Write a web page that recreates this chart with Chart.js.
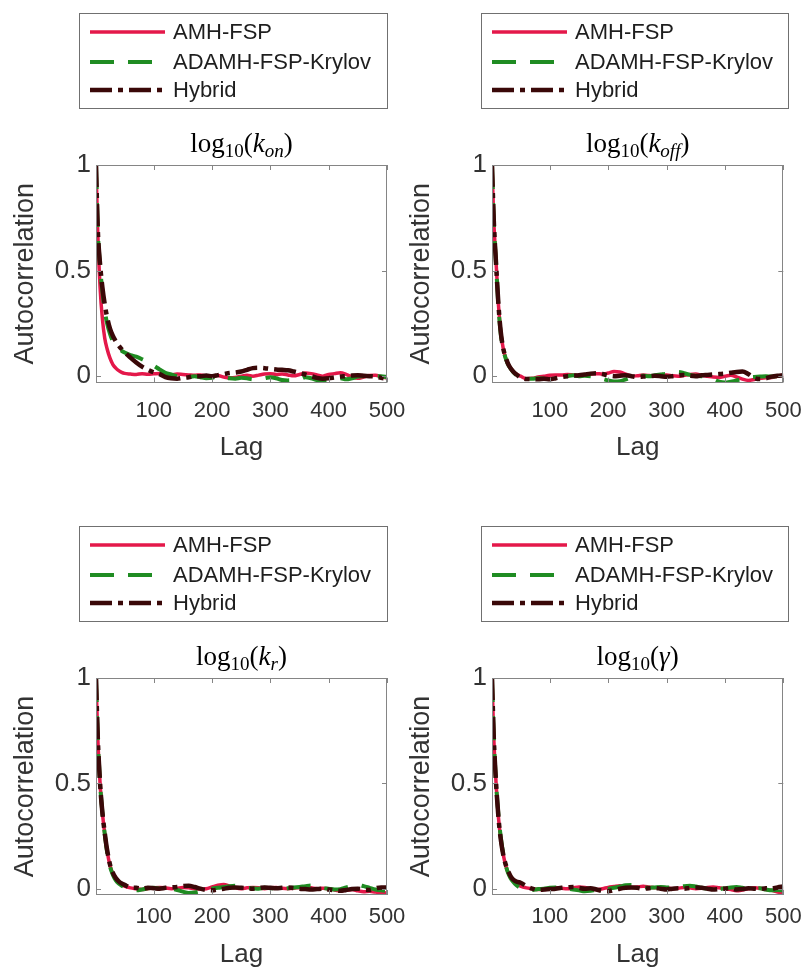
<!DOCTYPE html>
<html>
<head>
<meta charset="utf-8">
<title>MCMC autocorrelation</title>
<script src="https://cdn.jsdelivr.net/npm/chart.js"></script>
<style>
  html, body { margin: 0; padding: 0; background: #fff; overflow: hidden; }
  body { width: 806px; height: 973px; position: relative; }
  canvas { position: absolute; }
</style>
</head>
<body>
<canvas id="konChart"></canvas>
<canvas id="koffChart"></canvas>
<canvas id="krChart"></canvas>
<canvas id="gammaChart"></canvas>

<script>
// lag grid (dense near zero where the curves fall off)
const lags = [1, 4, 8, 12, 16, 20, 25, 30, 35, 40, 45, 50,
  60, 70, 80, 90, 100, 110, 120, 130, 140, 150, 160, 170, 180, 190, 200, 210, 220, 230, 240, 250,
  260, 270, 280, 290, 300, 310, 320, 330, 340, 350, 360, 370, 380, 390, 400, 410, 420, 430, 440, 450,
  460, 470, 480, 490, 500];

const seriesNames = ['AMH-FSP', 'ADAMH-FSP-Krylov', 'Hybrid'];
const xTickValues = [100, 200, 300, 400, 500];
const yTickValues = [0, 0.5, 1];

// log10(k_on)
const konAmh = [1.0, 0.68, 0.42, 0.27, 0.18, 0.13, 0.085, 0.055, 0.038, 0.026, 0.018, 0.013,
  0.010, 0.008, 0.012, 0.009, 0.011, 0.013, 0.008, 0.006, 0.010, 0.008, 0.006, 0.004, 0.006, 0.002, 0.000, 0.003, -0.004, -0.008, -0.006, 0.000,
  0.004, 0.000, 0.005, 0.010, 0.012, 0.008, 0.010, 0.006, 0.002, 0.008, 0.015, 0.012, 0.006, 0.000, 0.008, 0.012, 0.016, 0.008, -0.004, -0.010,
  -0.004, 0.003, 0.004, -0.002, -0.010];
const konAdamh = [1.0, 0.70, 0.52, 0.40, 0.31, 0.25, 0.20, 0.165, 0.145, 0.13, 0.12, 0.112,
  0.100, 0.092, 0.080, 0.066, 0.050, 0.032, 0.016, 0.008, 0.000, -0.008, -0.004, 0.000, -0.005, -0.010, -0.008, 0.000, -0.005, -0.010, -0.012, -0.008,
  -0.010, -0.015, -0.012, -0.010, -0.005, -0.010, -0.018, -0.020, -0.018, -0.015, -0.005, -0.010, -0.018, -0.020, -0.018, -0.012, -0.010, -0.015, -0.010, -0.002,
  0.000, 0.002, 0.000, 0.000, -0.005];
const konHybrid = [1.0, 0.70, 0.53, 0.42, 0.34, 0.28, 0.225, 0.19, 0.165, 0.145, 0.128, 0.113,
  0.088, 0.065, 0.045, 0.030, 0.018, 0.010, -0.004, -0.010, -0.012, -0.008, -0.005, 0.000, 0.000, 0.003, 0.000, 0.005, 0.010, 0.015, 0.017, 0.022,
  0.030, 0.038, 0.040, 0.038, 0.035, 0.032, 0.030, 0.028, 0.022, 0.015, 0.008, 0.000, -0.008, -0.012, -0.010, -0.006, -0.002, 0.000, 0.003, 0.004,
  0.002, 0.000, -0.002, -0.008, -0.012];

// log10(k_off)
const koffAmh = [1.0, 0.74, 0.54, 0.34, 0.21, 0.135, 0.08, 0.05, 0.03, 0.015, 0.006, 0.0,
  -0.012, -0.010, -0.004, 0.000, 0.004, 0.006, 0.005, 0.008, 0.006, 0.004, 0.006, 0.010, 0.012, 0.010, 0.015, 0.022, 0.020, 0.010, 0.000, 0.002,
  0.005, 0.003, 0.000, 0.004, 0.006, 0.002, 0.000, 0.004, 0.008, 0.010, 0.004, 0.000, -0.004, -0.006, 0.000, 0.004, -0.004, -0.014, -0.020, -0.016,
  -0.010, -0.008, -0.006, 0.000, 0.004];
const koffAdamh = [1.0, 0.74, 0.53, 0.33, 0.20, 0.13, 0.08, 0.048, 0.028, 0.012, 0.0, -0.008,
  -0.012, -0.012, -0.010, -0.012, -0.014, -0.010, -0.004, 0.000, 0.004, 0.000, 0.002, 0.000, -0.004, -0.012, -0.020, -0.025, -0.024, -0.015, -0.005, 0.000,
  0.002, 0.000, 0.004, 0.008, 0.012, 0.018, 0.020, 0.014, 0.006, 0.002, 0.000, -0.006, -0.015, -0.026, -0.030, -0.026, -0.020, -0.012, -0.006, -0.004,
  -0.002, 0.000, -0.002, 0.000, 0.002];
const koffHybrid = [1.0, 0.74, 0.53, 0.34, 0.21, 0.135, 0.085, 0.05, 0.03, 0.014, 0.003, -0.006,
  -0.014, -0.014, -0.015, -0.012, -0.015, -0.010, -0.004, 0.000, 0.002, 0.004, 0.008, 0.012, 0.014, 0.010, 0.004, 0.000, 0.002, 0.004, 0.000, -0.004,
  -0.002, 0.000, 0.002, 0.000, -0.003, 0.000, 0.004, 0.006, 0.002, 0.000, 0.004, 0.006, 0.008, 0.010, 0.012, 0.016, 0.020, 0.022, 0.010, -0.008,
  -0.014, -0.010, -0.002, 0.002, 0.004];

// log10(k_r)
const krAmh = [1.0, 0.72, 0.50, 0.36, 0.26, 0.18, 0.11, 0.07, 0.045, 0.03, 0.02, 0.012,
  0.004, 0.000, -0.004, 0.000, 0.004, 0.006, 0.004, 0.000, 0.002, 0.006, 0.004, 0.000, -0.002, 0.000, 0.008, 0.016, 0.020, 0.012, 0.004, 0.000,
  0.004, 0.006, 0.004, 0.000, 0.004, 0.006, 0.002, 0.000, 0.002, 0.006, 0.008, 0.004, 0.000, 0.002, 0.000, -0.006, -0.010, -0.008, -0.004, -0.010,
  -0.014, -0.012, -0.016, -0.018, -0.020];
const krAdamh = [1.0, 0.72, 0.50, 0.36, 0.26, 0.175, 0.105, 0.065, 0.04, 0.025, 0.015, 0.006,
  0.000, -0.008, -0.004, 0.002, 0.004, 0.000, -0.004, -0.002, -0.006, -0.014, -0.020, -0.018, -0.012, -0.006, 0.000, 0.004, 0.008, 0.012, 0.014, 0.008,
  0.004, 0.002, 0.000, 0.004, 0.002, 0.000, -0.002, 0.002, 0.006, 0.008, 0.012, 0.015, 0.012, 0.004, 0.000, -0.004, -0.002, 0.006, 0.012, 0.018,
  0.012, 0.004, -0.004, -0.008, -0.010];
const krHybrid = [1.0, 0.72, 0.50, 0.36, 0.265, 0.185, 0.115, 0.075, 0.05, 0.035, 0.025, 0.018,
  0.006, 0.004, 0.000, 0.004, 0.002, 0.000, 0.004, 0.006, 0.008, 0.012, 0.014, 0.008, 0.000, -0.006, -0.008, -0.004, 0.000, 0.004, 0.006, 0.004,
  0.002, 0.000, 0.003, 0.006, 0.004, 0.002, 0.004, 0.006, 0.003, 0.000, -0.002, -0.004, -0.002, 0.000, -0.004, -0.008, -0.010, -0.006, -0.002, 0.000,
  -0.004, -0.006, 0.002, 0.006, 0.006];

// log10(gamma)
const gammaAmh = [1.0, 0.72, 0.50, 0.34, 0.235, 0.165, 0.105, 0.068, 0.045, 0.03, 0.02, 0.012,
  0.004, 0.000, -0.004, -0.004, 0.000, 0.004, 0.002, 0.000, 0.004, 0.008, 0.006, 0.000, -0.004, 0.000, 0.006, 0.010, 0.014, 0.010, 0.006, 0.008,
  0.012, 0.008, 0.004, 0.006, 0.004, 0.000, 0.002, 0.006, 0.004, 0.000, 0.002, 0.006, 0.008, 0.004, 0.000, -0.004, -0.010, -0.006, 0.000, 0.004,
  0.002, -0.004, -0.008, -0.016, -0.018];
const gammaAdamh = [1.0, 0.72, 0.50, 0.35, 0.245, 0.17, 0.105, 0.065, 0.04, 0.024, 0.012, 0.004,
  -0.004, -0.006, -0.002, 0.000, 0.004, 0.006, 0.004, 0.000, -0.004, -0.008, -0.012, -0.010, -0.006, -0.004, 0.000, 0.004, 0.010, 0.016, 0.018, 0.014,
  0.008, 0.004, 0.006, 0.008, 0.006, 0.004, 0.008, 0.012, 0.014, 0.010, 0.004, 0.000, -0.004, -0.002, 0.002, 0.006, 0.008, 0.004, 0.000, 0.000,
  0.002, -0.004, -0.008, -0.006, -0.008];
const gammaHybrid = [1.0, 0.72, 0.50, 0.34, 0.235, 0.165, 0.11, 0.075, 0.05, 0.038, 0.032, 0.028,
  0.012, 0.000, -0.006, -0.004, -0.002, 0.000, 0.004, 0.006, 0.008, 0.004, 0.000, 0.002, -0.004, -0.010, -0.012, -0.006, 0.000, 0.004, 0.006, 0.004,
  0.000, 0.002, 0.004, 0.000, -0.004, 0.000, 0.002, 0.000, 0.004, 0.006, 0.004, 0.000, -0.004, -0.002, 0.000, 0.002, -0.004, -0.002, 0.002, 0.000,
  -0.002, 0.002, 0.000, 0.006, 0.010];

// title pieces: [text, style]  (sub = subscript, it = italic)
const konTitle = [['log', ''], ['10', 'sub'], ['(', ''], ['k', 'it'], ['on', 'it sub'], [')', '']];
const koffTitle = [['log', ''], ['10', 'sub'], ['(', ''], ['k', 'it'], ['off', 'it sub'], [')', '']];
const krTitle = [['log', ''], ['10', 'sub'], ['(', ''], ['k', 'it'], ['r', 'it sub'], [')', '']];
const gammaTitle = [['log', ''], ['10', 'sub'], ['(', ''], ['γ', 'it'], [')', '']];

const SANS = "'Liberation Sans', Arial, Helvetica, sans-serif";
const SERIF = "'Liberation Serif', 'Times New Roman', serif";
const TEXT = '#333333';

const lineStyles = [
  { color: '#e4184a', width: 3.5, dash: [] },
  { color: '#1f8c22', width: 4, dash: [24, 14] },
  { color: '#3a0808', width: 4.5, dash: [22, 6, 5, 6] }
];

// axes box, inward ticks, legend box and the math title
const panelDecor = {
  id: 'panelDecor',
  afterDatasetsDraw(chart) {
    const { ctx, chartArea: a, scales: { x, y } } = chart;
    ctx.save();
    ctx.strokeStyle = '#858585';
    ctx.lineWidth = 1;
    ctx.strokeRect(Math.round(a.left) + 0.5, Math.round(a.top) + 0.5,
      Math.round(a.width) - 1, Math.round(a.height) - 1);
    ctx.beginPath();
    x.ticks.forEach(t => {
      const px = Math.round(x.getPixelForValue(t.value)) + 0.5;
      ctx.moveTo(px, a.bottom); ctx.lineTo(px, a.bottom - 5);
      ctx.moveTo(px, a.top); ctx.lineTo(px, a.top + 5);
    });
    y.ticks.forEach(t => {
      const py = Math.round(y.getPixelForValue(t.value)) + 0.5;
      ctx.moveTo(a.left, py); ctx.lineTo(a.left + 5, py);
      ctx.moveTo(a.right, py); ctx.lineTo(a.right - 5, py);
    });
    ctx.stroke();
    ctx.restore();
  },
  afterDraw(chart, args, opts) {
    const ctx = chart.ctx;
    const b = opts.legendBox;
    ctx.save();

    // legend
    ctx.fillStyle = '#fff';
    ctx.fillRect(b.x, b.y, b.w, b.h);
    ctx.strokeStyle = '#707070';
    ctx.lineWidth = 1;
    ctx.strokeRect(b.x + 0.5, b.y + 0.5, b.w, b.h);
    const rowY = [19, 49, 77];
    chart.data.datasets.forEach((ds, i) => {
      const yy = b.y + rowY[i];
      ctx.strokeStyle = ds.borderColor;
      ctx.lineWidth = ds.borderWidth;
      ctx.setLineDash(ds.borderDash);
      ctx.beginPath();
      ctx.moveTo(b.x + 11, yy);
      ctx.lineTo(b.x + 86, yy);
      ctx.stroke();
      ctx.setLineDash([]);
      ctx.fillStyle = '#1e1e1e';
      ctx.font = '22px ' + SANS;
      ctx.textAlign = 'left';
      ctx.textBaseline = 'middle';
      ctx.fillText(ds.label, b.x + 94, yy + 1);
    });

    // title
    const a = chart.chartArea;
    const size = 27;
    const subSize = 19;
    const fontFor = st => (st.includes('it') ? 'italic ' : '') + (st.includes('sub') ? subSize : size) + 'px ' + SERIF;
    let total = 0;
    opts.title.forEach(([t, st]) => { ctx.font = fontFor(st); total += ctx.measureText(t).width; });
    let cx = (a.left + a.right) / 2 - total / 2;
    const base = a.top - 13;
    ctx.fillStyle = '#000';
    ctx.textAlign = 'left';
    ctx.textBaseline = 'alphabetic';
    opts.title.forEach(([t, st]) => {
      ctx.font = fontFor(st);
      ctx.fillText(t, cx, base + (st.includes('sub') ? 5 : 0));
      cx += ctx.measureText(t).width;
    });
    ctx.restore();
  }
};

function makePanel(id, geo, title, series) {
  const canvas = document.getElementById(id);
  canvas.width = geo.w;
  canvas.height = geo.h;
  canvas.style.left = geo.x + 'px';
  canvas.style.top = geo.y + 'px';

  const datasets = series.map((vals, i) => ({
    label: seriesNames[i],
    data: lags.map((lag, j) => ({ x: lag, y: vals[j] })),
    borderColor: lineStyles[i].color,
    borderWidth: lineStyles[i].width,
    borderDash: lineStyles[i].dash,
    borderCapStyle: 'butt',
    pointRadius: 0,
    fill: false,
    cubicInterpolationMode: 'monotone',
    order: 2 - i
  }));

  return new Chart(canvas, {
    type: 'line',
    data: { datasets },
    options: {
      responsive: false,
      animation: false,
      devicePixelRatio: 1,
      layout: { padding: { top: 165, right: geo.padRight, left: 0, bottom: 0 } },
      plugins: {
        legend: { display: false },
        tooltip: { enabled: false },
        panelDecor: { legendBox: geo.legend, title: title }
      },
      scales: {
        x: {
          type: 'linear',
          min: 1,
          max: 500,
          grid: { display: false, drawTicks: false },
          border: { display: false },
          afterBuildTicks: s => { s.ticks = xTickValues.map(v => ({ value: v })); },
          afterFit: s => { s.height = geo.xAxisH; s.paddingLeft = 0; s.paddingRight = 0; },
          ticks: {
            font: { family: SANS, size: 22 },
            color: TEXT,
            padding: geo.xTickPad,
            maxRotation: 0,
            autoSkip: false,
            callback: v => String(v)
          },
          title: {
            display: true,
            text: 'Lag',
            color: TEXT,
            font: { family: SANS, size: 26 },
            padding: { top: 0, bottom: geo.lagPad }
          }
        },
        y: {
          type: 'linear',
          min: -0.03,
          max: 1,
          grid: { display: false, drawTicks: false },
          border: { display: false },
          afterBuildTicks: s => { s.ticks = yTickValues.map(v => ({ value: v })); },
          afterFit: s => { s.width = 96; s.paddingTop = 0; s.paddingBottom = 0; },
          ticks: {
            font: { family: SANS, size: 26 },
            color: TEXT,
            padding: 5,
            callback: v => String(v)
          },
          title: {
            display: true,
            text: 'Autocorrelation',
            color: TEXT,
            font: { family: SANS, size: 27, lineHeight: 1 },
            padding: { top: 12, bottom: 0 }
          }
        }
      }
    },
    plugins: [panelDecor]
  });
}

const topGeo = { y: 0, h: 486, xAxisH: 103.5, xTickPad: 15, lagPad: 23 };
const botGeo = { y: 513, h: 460, xAxisH: 78, xTickPad: 9, lagPad: 3 };
// left canvas is wider than its half so the last tick label is not cut off
const leftGeo = { x: 0, w: 430, padRight: 43, legend: { x: 79, y: 13, w: 308, h: 95 } };
const rightGeo = { x: 396, w: 410, padRight: 22.7, legend: { x: 85, y: 13, w: 307, h: 95 } };

makePanel('konChart', Object.assign({}, topGeo, leftGeo), konTitle, [konAmh, konAdamh, konHybrid]);
makePanel('koffChart', Object.assign({}, topGeo, rightGeo), koffTitle, [koffAmh, koffAdamh, koffHybrid]);
makePanel('krChart', Object.assign({}, botGeo, leftGeo), krTitle, [krAmh, krAdamh, krHybrid]);
makePanel('gammaChart', Object.assign({}, botGeo, rightGeo), gammaTitle, [gammaAmh, gammaAdamh, gammaHybrid]);
</script>
</body>
</html>
